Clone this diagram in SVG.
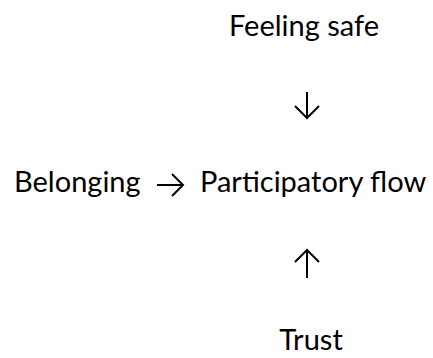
<svg xmlns="http://www.w3.org/2000/svg" width="433" height="358" viewBox="0 0 433 358">
<style>
.t{font-family:Lato,"Open Sans","Liberation Sans",sans-serif;font-size:29px;fill:#000}
.c{stroke:#000;stroke-width:2;fill:none;stroke-linecap:butt}
</style>
<rect width="433" height="358" fill="#fff"/>
<g id="feeling-safe"><text class="t" x="304" y="36" text-anchor="middle">Feeling safe</text></g>
<g id="belonging"><text class="t" x="14" y="192">Belonging</text></g>
<g id="participatory-flow"><text class="t" x="200" y="192">Participatory flow</text></g>
<g id="trust"><text class="t" x="311" y="350" text-anchor="middle">Trust</text></g>
<g id="connectors">
<path class="c" d="M307 92V118M295 106L307 118L319 106"/>
<path class="c" d="M157 185H183M172 174L183 185L172 196"/>
<path class="c" d="M307 278V250M295 262L307 250L319 262"/>
</g>
</svg>
